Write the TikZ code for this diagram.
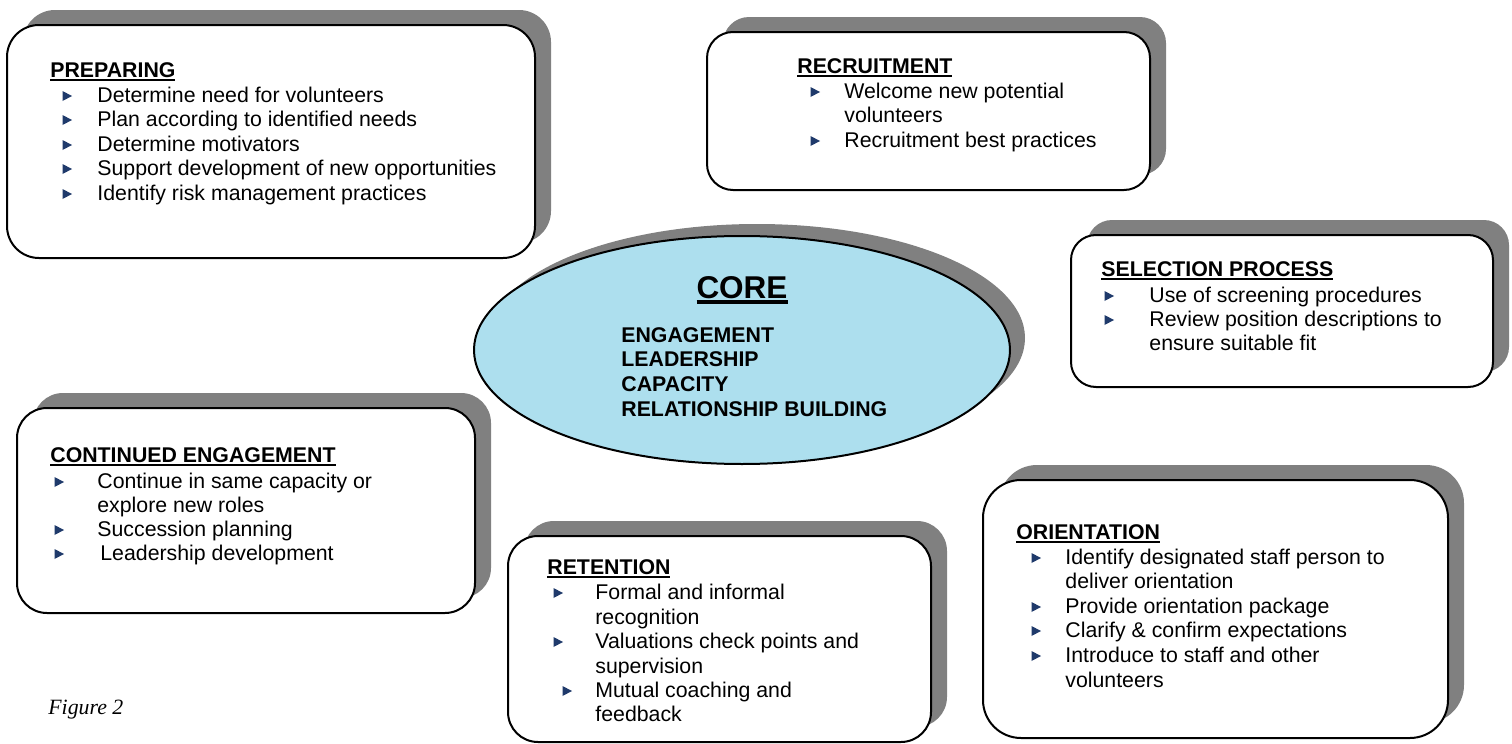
\documentclass[tikz,border=0pt]{standalone}
\usepackage{fontspec}
\setmainfont{Liberation Sans}
\newfontfamily\figfont{Liberation Serif}
\definecolor{shadowgray}{HTML}{808080}
\definecolor{corefill}{HTML}{ADDFEE}
\definecolor{bulletnavy}{HTML}{1F3A6B}
\newcommand\hdul[1]{\setbox0\hbox{#1}\rlap{\rule[-2.2pt]{\wd0}{1.1pt}}\box0}
\newcommand\coreul[1]{\setbox0\hbox{#1}\rlap{\rule[-3pt]{\wd0}{1.8pt}}\box0}
\tikzset{
  boxshadow/.style={fill=shadowgray, draw=none},
  boxmain/.style={fill=white, draw=black, line width=1pt},
  head/.style={anchor=base west, inner sep=0pt, font=\fontsize{10.65}{12.25}\selectfont\bfseries},
  item/.style={anchor=base west, inner sep=0pt, font=\fontsize{10.65}{12.25}\selectfont},
  coretitle/.style={anchor=base, inner sep=0pt, font=\fontsize{15.75}{18}\selectfont\bfseries},
  figlabel/.style={anchor=base west, inner sep=0pt, font=\figfont\itshape\fontsize{10.9}{13}\selectfont},
  pics/bul/.style={code={\fill[bulletnavy] (-4.5,-5) -- (5,0) -- (-4.5,5) -- cycle;}}
}
\begin{document}
\begin{tikzpicture}[x=0.5pt,y=-0.5pt]
\useasboundingbox (0,0) rectangle (1512,744);

% ---------- PREPARING ----------
\fill[boxshadow, rounded corners=16pt] (23,10) rectangle (551,243);
\draw[boxmain, rounded corners=16pt] (7,25) rectangle (535,258);
\node[head] (prepH) at (50,77) {\hdul{PREPARING}};
\pic at (67,96) {bul};
\node[item] (prep1) at (97,102) {Determine need for volunteers};
\pic at (67,120) {bul};
\node[item] (prep2) at (97,126) {Plan according to identified needs};
\pic at (67,145) {bul};
\node[item] (prep3) at (97,151) {Determine motivators};
\pic at (67,169) {bul};
\node[item] (prep4) at (97,175) {Support development of new opportunities};
\pic at (67,194) {bul};
\node[item] (prep5) at (97,200) {Identify risk management practices};

% ---------- RECRUITMENT ----------
\fill[boxshadow, rounded corners=13pt] (723,17) rectangle (1166,175);
\draw[boxmain, rounded corners=13pt] (707,32) rectangle (1150,190);
\node[head] (recH) at (797,73) {\hdul{RECRUITMENT}};
\pic at (815,92) {bul};
\node[item] (rec1) at (844,98) {Welcome new potential};
\node[item] (rec1b) at (844,122) {volunteers};
\pic at (815,141) {bul};
\node[item] (rec2) at (844,147) {Recruitment best practices};

% ---------- SELECTION PROCESS ----------
\fill[boxshadow, rounded corners=12.5pt] (1087,220) rectangle (1509,372);
\draw[boxmain, rounded corners=12.5pt] (1071,235) rectangle (1493,387);
\node[head] (selH) at (1101,276) {\hdul{SELECTION PROCESS}};
\pic at (1109,296) {bul};
\node[item] (sel1) at (1149,302) {Use of screening procedures};
\pic at (1109,320) {bul};
\node[item] (sel2) at (1149,326) {Review position descriptions to};
\node[item] (sel2b) at (1149,350) {ensure suitable fit};

% ---------- CORE ----------
\fill[shadowgray] (757,338) ellipse [x radius=134pt, y radius=57pt];
\draw[fill=corefill, draw=black, line width=1pt] (742,350) ellipse [x radius=134pt, y radius=57pt];
\node[coretitle] (coreH) at (742,298) {\coreul{CORE}};
\node[head] (core1) at (621,342) {ENGAGEMENT};
\node[head] (core2) at (621,366) {LEADERSHIP};
\node[head] (core3) at (621,391) {CAPACITY};
\node[head] (core4) at (621,416) {RELATIONSHIP BUILDING};

% ---------- CONTINUED ENGAGEMENT ----------
\fill[boxshadow, rounded corners=15pt] (33,393) rectangle (491,598);
\draw[boxmain, rounded corners=15pt] (17,408) rectangle (475,613);
\node[head] (contH) at (50,462) {\hdul{CONTINUED ENGAGEMENT}};
\pic at (59,482) {bul};
\node[item] (cont1) at (97,488) {Continue in same capacity or};
\node[item] (cont1b) at (97,512) {explore new roles};
\pic at (59,530) {bul};
\node[item] (cont2) at (97,536) {Succession planning};
\pic at (59,554) {bul};
\node[item] (cont3) at (100,560) {Leadership development};

% ---------- RETENTION ----------
\fill[boxshadow, rounded corners=15pt] (524,521) rectangle (947,727);
\draw[boxmain, rounded corners=15pt] (508,536) rectangle (931,742);
\node[head] (retH) at (547,574) {\hdul{RETENTION}};
\pic at (558,593) {bul};
\node[item] (ret1) at (595,599) {Formal and informal};
\node[item] (ret1b) at (595,624) {recognition};
\pic at (558,642) {bul};
\node[item] (ret2) at (595,648) {Valuations check points and};
\node[item] (ret2b) at (595,673) {supervision};
\pic at (567,691) {bul};
\node[item] (ret3) at (595,697) {Mutual coaching and};
\node[item] (ret3b) at (595,721) {feedback};

% ---------- ORIENTATION ----------
\fill[boxshadow, rounded corners=19pt] (999,465) rectangle (1464,723);
\draw[boxmain, rounded corners=19pt] (983,480) rectangle (1448,738);
\node[head] (oriH) at (1016,539) {\hdul{ORIENTATION}};
\pic at (1036,558) {bul};
\node[item] (ori1) at (1065,564) {Identify designated staff person to};
\node[item] (ori1b) at (1065,588) {deliver orientation};
\pic at (1036,607) {bul};
\node[item] (ori2) at (1065,613) {Provide orientation package};
\pic at (1036,631) {bul};
\node[item] (ori3) at (1065,637) {Clarify \& confirm expectations};
\pic at (1036,656) {bul};
\node[item] (ori4) at (1065,662) {Introduce to staff and other};
\node[item] (ori4b) at (1065,687) {volunteers};

% ---------- Figure label ----------
\node[figlabel] (fig) at (48,714) {Figure 2};
\end{tikzpicture}
\end{document}
